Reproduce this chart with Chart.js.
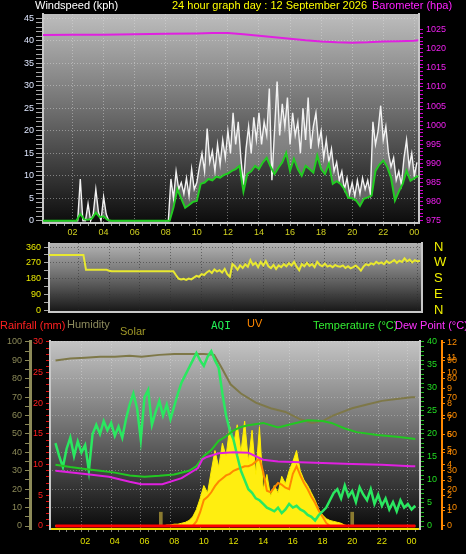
<!DOCTYPE html>
<html>
<head>
<meta charset="utf-8">
<script src="https://cdn.jsdelivr.net/npm/chart.js@4.4.0/dist/chart.umd.min.js"></script>
<style>
  body { margin: 0; background: #000; width: 466px; height: 554px; overflow: hidden; position: relative;
         font-family: "Liberation Sans", Arial, sans-serif; }
  canvas { position: absolute; left: 0; }
  .lbl { position: absolute; font-size: 11px; line-height: 13px; white-space: nowrap; z-index: 2; }
</style>
</head>
<body>
<canvas id="wind" width="466" height="240" style="top:0"></canvas>
<canvas id="dir" width="466" height="84" style="top:236px"></canvas>
<canvas id="env" width="466" height="236" style="top:318px"></canvas>

<div class="lbl" style="left:35px;top:-1px;color:#ffffff">Windspeed (kph)</div>
<div class="lbl" style="left:172px;top:-1px;color:#ffff00">24 hour graph day : 12 September 2026</div>
<div class="lbl" style="left:372px;top:-1px;color:#ff22ff">Barometer (hpa)</div>

<div class="lbl" style="left:0;top:319px;color:#ff2020">Rainfall (mm)</div>
<div class="lbl" style="left:67px;top:318px;color:#8c8a5c">Humidity</div>
<div class="lbl" style="left:120px;top:325px;color:#a09828">Solar</div>
<div class="lbl" style="left:211px;top:319px;color:#22ee55;font-family:'DejaVu Sans Mono',monospace">AQI</div>
<div class="lbl" style="left:247px;top:317px;color:#ff8800">UV</div>
<div class="lbl" style="left:313px;top:319px;color:#33ee33">Temperature (°C)</div>
<div class="lbl" style="left:395px;top:319px;color:#ff33ff">Dew Point (°C)</div>

<script>
// ---- data ----
// wind, 10 minute samples from 00:00 (kph)
const windGust = [
  0, 0, 0, 0, 0, 0, 0, 0, 0, 0, 0, 0, 0, 0, 0,
  9.3, 0, 0, 3.8, 0, 1.5, 7.0, 2, 0, 5.3, 1.5,
  0, 0, 0, 0, 0, 0, 0, 0, 0, 0, 0, 0, 0, 0, 0, 0, 0, 0, 0, 0, 0, 0, 0, 0,
  9.3, 5, 11, 7, 8.5, 6, 9.5, 5.5, 11.5, 7,
  8.5, 12, 15, 11, 20.5, 13, 15.5, 11, 17, 12.5,
  18, 14, 20, 15, 24, 17, 22, 14, 8, 16,
  21, 15, 23, 18, 24, 17, 22, 19, 29.4, 9,
  20, 31, 19, 26, 21, 27.4, 17, 24, 19, 22,
  15, 25, 18, 27.4, 16, 21, 24, 17, 20, 14,
  18, 13, 16, 11, 13, 9, 11, 7, 9.5, 6,
  8.5, 5.5, 9, 6, 9.5, 7, 9, 6, 22, 17,
  20, 25.6, 18, 21, 15, 12, 14, 9, 11, 8,
  14, 18, 12, 15, 10, 13
];
// average wind, 15 minute samples from 00:00 (kph)
const windAvg = [
  0, 0, 0, 0, 0, 0, 0, 0, 0, 0,
  1.5, 0.3, 0.2, 0.5, 1.8, 0.8, 1.0, 0.2,
  0, 0, 0, 0, 0, 0, 0, 0, 0, 0, 0, 0, 0, 0, 0, 0,
  3, 7, 4.9, 2.9, 3.5, 4.2, 4.4, 8.2, 8.5, 9.3,
  9.0, 9.8, 9.6, 10.2, 10.5, 11.1, 11.5, 12.2, 6.5, 10.4,
  11.0, 12.2, 11.5, 13.0, 14.0, 12.0, 10.4, 11.8, 13.0, 15.1,
  11.1, 13.8, 11.5, 10.0, 12.2, 11.5, 10.7, 14.5, 11.5, 10.4,
  12.7, 8.2, 8.8, 8.2, 7.0, 5.1, 5.0, 4.5, 3.3, 4.9,
  5.2, 5.6, 11.1, 12.5, 13.4, 12.0, 9.6, 4.5, 6.5, 8.2,
  11.1, 8.9, 9.5, 10.0
];
const baroHours = [0, 2, 4, 6, 8, 10, 11, 12, 13, 14, 15, 16, 17, 18, 19, 20, 21, 22, 23, 24, 24.25];
const baroValues = [1023.6, 1023.7, 1023.7, 1023.8, 1023.9, 1024.0, 1024.1, 1024.1, 1023.8, 1023.4,
  1023.0, 1022.6, 1022.2, 1021.9, 1021.7, 1021.6, 1021.7, 1021.9, 1022.0, 1022.1, 1022.2];

// wind direction, 10 minute samples (degrees)
const windDir = [
  315, 315, 315, 315, 315, 315, 315, 315, 315, 315, 315, 315, 315, 315, 315,
  230, 230, 230, 230, 230, 230, 230, 230, 230, 225,
  222, 222, 222, 222, 222, 222, 222, 222, 222, 222, 222, 222, 222, 222, 222,
  222, 222, 222, 222, 222, 222, 222, 222, 222, 222,
  200, 180, 175, 178, 172, 180, 175, 185, 195, 190,
  205, 200, 215, 225, 212, 232, 220, 228, 215, 235,
  205, 190, 262, 250, 230, 255, 240, 262, 248, 285,
  258, 270, 245, 275, 255, 280, 250, 240, 258, 235,
  255, 245, 262, 250, 268, 255, 275, 248, 228, 262,
  250, 270, 252, 262, 245, 275, 258, 250, 265, 248,
  255, 245, 258, 250, 248, 255, 240, 250, 238, 245,
  255, 242, 225, 248, 262, 255, 268, 260, 275, 265,
  272, 262, 280, 268, 275, 285, 270, 282, 275, 295,
  278, 288, 272, 285, 278, 282
];
const compass = { 0: 'N', 90: 'E', 180: 'S', 270: 'W', 360: 'N' };

// lower panel
const tempHours = [0, 1, 2, 3, 4, 5, 6, 7, 8, 9, 9.5, 10, 10.5, 11, 11.5, 12, 12.5, 13, 14, 15, 16, 17, 18, 18.6, 19.5, 20.3, 21.7, 23, 24, 24.25];
const tempValues = [13.3, 12.8, 12.4, 12.0, 11.6, 11.0, 10.7, 10.9, 11.2, 12.0, 13.0, 15.2, 16.5, 18.5, 19.5, 20.8, 21.5, 21.9, 22.4, 21.4, 22.2, 23.0, 22.8, 22.4, 21.2, 20.4, 19.8, 19.4, 19.0, 18.9];
const dewHours = [0, 2, 3.6, 5, 5.8, 7.2, 8.5, 9.6, 9.9, 10.2, 11, 12, 13, 14, 15, 16, 17, 18, 20, 22, 24, 24.25];
const dewValues = [12.0, 11.3, 10.7, 9.6, 9.1, 9.1, 10.4, 12.6, 14.5, 15.0, 15.8, 16.0, 15.9, 14.4, 14.0, 13.9, 13.8, 13.7, 13.5, 13.3, 13.0, 13.0];
const humHours = [0, 1, 2, 3, 4, 5, 5.8, 7, 8, 9, 10, 10.7, 11.2, 11.8, 12.5, 13.5, 14.5, 15.5, 16.5, 17.3, 18, 18.7, 20, 21, 22, 23, 24, 24.25];
const humValues = [90, 91, 91.5, 92, 92, 92.5, 92, 93, 93.5, 93.5, 93.5, 93, 86, 77, 72, 67, 64, 62, 58, 56, 57, 60, 64, 66, 68, 69, 70, 70];
// 15 minute samples from 00:00
const aqi = [
  45, 38, 32, 42, 48, 38, 46, 40, 44, 30,
  50, 55, 50, 57, 52, 56, 49, 54, 48, 58,
  66, 72, 64, 47, 70, 74, 55, 62, 68, 60,
  66, 58, 65, 72, 78, 82, 86, 90, 94, 90,
  87, 92, 95, 90, 86, 72, 60, 52, 47, 38,
  30, 25, 20, 18, 15, 14, 12, 10, 9, 8,
  10, 7, 9, 12, 10, 11, 9, 8, 6, 5,
  3, 6, 8, 10, 14, 18, 20, 15, 22, 16,
  19, 13, 21, 17, 14, 20, 12, 17, 11, 15,
  9, 13, 8, 14, 10, 12, 9, 11
];
const solar = [
  0, 0, 0, 0, 0, 0, 0, 0, 0, 0, 0, 0, 0, 0, 0, 0, 0, 0, 0, 0, 0, 0, 0, 0, 0, 0, 0, 0, 0, 0,
  0.5, 0.5, 1, 1, 1.5, 2, 3, 5, 9, 15,
  22, 18, 30, 41, 32, 45, 38, 54, 44, 55,
  40, 57, 35, 52, 28, 54, 20, 28, 16, 22,
  18, 27, 23, 30, 35, 41, 30, 25, 22, 18,
  14, 9, 6, 4, 3, 2.5, 2, 1.5, 0.5, 0,
  0, 0, 0, 0, 0, 0, 0, 0, 0, 0, 0, 0, 0, 0, 0, 0, 0, 0
];
const uv = [
  0, 0, 0, 0, 0, 0, 0, 0, 0, 0, 0, 0, 0, 0, 0, 0, 0, 0, 0, 0,
  0, 0, 0, 0, 0, 0, 0, 0, 0, 0, 0, 0, 0, 0, 0, 0, 0, 0,
  0.3, 0.9, 1.7, 1.9, 2.2, 2.6, 2.9, 3.1, 3.3, 3.4, 3.6, 3.7,
  3.8, 3.9, 3.9, 4.0, 4.2, 4.4, 3.5, 2.3, 2.2, 2.5,
  2.8, 2.7, 2.5, 2.4, 3.4, 3.9, 3.3, 2.8, 2.4, 1.9,
  1.5, 1.0, 0.6, 0.2, 0,
  0, 0, 0, 0, 0, 0, 0, 0, 0, 0, 0, 0, 0, 0, 0, 0, 0, 0, 0, 0, 0, 0, 0
];
const rainHours = [0, 6, 12, 18, 24.25];
const rainfall = [0, 0, 0, 0, 0];
const sunHours = [7.1, 20.0];
const sunMarks = [7.5, 7.5];

// ---- helpers ----
const FONT = "'Liberation Sans', Arial, sans-serif";
const GRID = 'rgba(225,225,225,0.45)';
const pts = (xs, ys) => xs.map((x, i) => ({ x, y: ys[i] }));
const every = (arr, step) => arr.map((_, i) => i * step);
const steps = (a, b, s) => { const r = []; for (let v = a; v <= b + 1e-9; v += s) r.push(+v.toFixed(3)); return r; };
const setTicks = vals => s => { s.ticks = vals.filter(v => v >= s.min && v <= s.max).map(v => ({ value: v })); };
const isMult = (v, m) => Math.abs(v / m - Math.round(v / m)) < 1e-6;
const hourLbl = v => (v > 0 && isMult(v, 2) ? String(Math.round(v) % 24).padStart(2, '0') : '');
const evenGrid = c => (c.tick && c.tick.value > 0 && isMult(c.tick.value, 2) ? GRID : 'transparent');
// fixed axis sizes, no automatic label overflow padding
const fitW = w => s => { s.width = w; s.paddingTop = 0; s.paddingBottom = 0; };
const fitH = h => s => { s.height = h; s.paddingLeft = 0; s.paddingRight = 0; };

const panelBg = {
  id: 'panelBg',
  beforeDraw(chart, args, opts) {
    const { ctx, chartArea: a } = chart;
    const g = ctx.createLinearGradient(0, a.top, 0, a.bottom);
    opts.stops.forEach(([p, c]) => g.addColorStop(p, c));
    ctx.save();
    ctx.fillStyle = g;
    ctx.fillRect(a.left, a.top, a.right - a.left, a.bottom - a.top);
    ctx.restore();
  }
};

const base = (stops, top) => ({
  responsive: false,
  animation: false,
  events: [],
  layout: { padding: { top, left: 0, right: 0, bottom: 0 }, autoPadding: false },
  elements: { point: { radius: 0 }, line: { tension: 0 } },
  plugins: { legend: { display: false }, tooltip: { enabled: false }, panelBg: { stops } },
});

// ---- wind speed / barometer ----
new Chart(document.getElementById('wind'), {
  type: 'line',
  data: {
    datasets: [
      { data: pts(baroHours, baroValues), borderColor: '#e020e0', borderWidth: 2, yAxisID: 'yBaro' },
      { data: pts(every(windAvg, 0.25), windAvg), borderColor: '#22cc22', borderWidth: 2, yAxisID: 'y' },
      { data: pts(every(windGust, 1 / 6), windGust), borderColor: '#f2f2f2', borderWidth: 1.4, yAxisID: 'y',
        fill: { target: 1, above: 'rgba(205,205,205,0.4)', below: 'rgba(0,0,0,0)' } },
    ]
  },
  options: {
    ...base([[0, '#bdbdbd'], [0.45, '#707070'], [1, '#0c0c0c']], 14),
    scales: {
      x: {
        type: 'linear', min: 0.1, max: 24.3,
        afterBuildTicks: setTicks(steps(0.5, 24, 0.5)),
        afterFit: fitH(17),
        ticks: { color: '#d0d020', font: { family: FONT, size: 9 }, maxRotation: 0, autoSkip: false, padding: 1, callback: hourLbl },
        grid: { color: evenGrid, tickColor: '#909090', tickLength: 3 },
        border: { color: '#c8c8c8', width: 2, dash: [1, 2] },
      },
      y: {
        position: 'left', min: -0.5, max: 46,
        afterBuildTicks: setTicks(steps(0, 45, 1)),
        afterFit: fitW(43),
        ticks: { color: '#dfe7ff', font: { family: FONT, size: 9 }, padding: 2, autoSkip: false, callback: v => (isMult(v, 5) ? v : '') },
        grid: { color: c => (c.tick && c.tick.value > 0 && isMult(c.tick.value, 5) ? GRID : 'transparent'), tickColor: '#a8a8a8', tickLength: 7 },
        border: { color: '#c8c8c8', width: 2, dash: [1, 2] },
      },
      yBaro: {
        position: 'right', min: 974.4, max: 1029.1,
        afterBuildTicks: setTicks(steps(975, 1025, 1)),
        afterFit: fitW(47),
        ticks: { color: '#f020f0', font: { family: FONT, size: 9 }, padding: 3, autoSkip: false, callback: v => (isMult(v, 5) ? v : '') },
        grid: { drawOnChartArea: false, color: '#d000d0', tickLength: 4 },
        border: { color: '#c8c8c8', width: 2 },
      },
    }
  },
  plugins: [panelBg]
});

// ---- wind direction ----
new Chart(document.getElementById('dir'), {
  type: 'line',
  data: {
    datasets: [
      { data: pts(every(windDir, 1 / 6), windDir), borderColor: '#e8e830', borderWidth: 2, yAxisID: 'y' },
    ]
  },
  options: {
    ...base([[0, '#b4b4b4'], [0.5, '#6a6a6a'], [1, '#161616']], 7),
    scales: {
      x: {
        type: 'linear', min: 0.1, max: 24.3,
        afterBuildTicks: setTicks(steps(2, 24, 2)),
        afterFit: fitH(8),
        ticks: { display: false },
        grid: { color: 'rgba(40,40,40,0.5)', drawTicks: false },
        border: { color: '#c8c8c8', width: 2, dash: [1, 2] },
      },
      y: {
        position: 'left', min: -11, max: 383,
        afterBuildTicks: setTicks(steps(0, 360, 45)),
        afterFit: fitW(49),
        ticks: { color: '#e8e800', font: { family: FONT, size: 9 }, padding: 3, autoSkip: false, callback: v => (isMult(v, 90) ? v : '') },
        grid: { color: c => (c.tick && isMult(c.tick.value, 90) && c.tick.value > 0 ? 'rgba(60,60,60,0.6)' : 'transparent'), tickColor: '#a8a8a8', tickLength: 5 },
        border: { color: '#c8c8c8', width: 2, dash: [1, 2] },
      },
      yN: {
        position: 'right', min: -11, max: 383,
        afterBuildTicks: setTicks([0, 90, 180, 270, 360]),
        afterFit: fitW(44),
        ticks: { color: '#f0f000', font: { family: FONT, size: 13 }, padding: 12, autoSkip: false, callback: v => compass[v] },
        grid: { drawOnChartArea: false, drawTicks: false },
        border: { color: '#c8c8c8', width: 2 },
      },
    }
  },
  plugins: [panelBg]
});

// ---- rain / humidity / solar / AQI / UV / temperature / dew point ----
new Chart(document.getElementById('env'), {
  type: 'line',
  data: {
    datasets: [
      { data: pts(rainHours, rainfall), borderColor: '#ff0000', borderWidth: 3, yAxisID: 'yRain' },
      { data: pts(dewHours, dewValues), borderColor: '#e020e0', borderWidth: 2, yAxisID: 'yTemp' },
      { data: pts(tempHours, tempValues), borderColor: '#22c822', borderWidth: 2, yAxisID: 'yTemp' },
      { data: pts(every(aqi, 0.25), aqi), borderColor: '#2ae860', borderWidth: 2.5, yAxisID: 'yHum' },
      { data: pts(humHours, humValues), borderColor: '#7e7848', borderWidth: 2, yAxisID: 'yHum' },
      { data: pts(every(uv, 0.25), uv), borderColor: '#ff8800', borderWidth: 2, yAxisID: 'yUV' },
      { data: pts(every(solar, 0.25), solar), borderColor: '#ffee00', borderWidth: 1, backgroundColor: '#ffee10', fill: 'origin', yAxisID: 'yHum' },
      { type: 'bar', data: pts(sunHours, sunMarks), backgroundColor: '#8a7a30', barThickness: 3, grouped: false, yAxisID: 'yHum' },
    ]
  },
  options: {
    ...base([[0, '#c4c4c4'], [0.45, '#727272'], [1, '#0a0a0a']], 23),
    scales: {
      x: {
        type: 'linear', min: -0.11, max: 24.31,
        afterBuildTicks: setTicks(steps(0.5, 24, 0.5)),
        afterFit: fitH(25),
        ticks: { color: '#e0e000', font: { family: FONT, size: 9 }, maxRotation: 0, autoSkip: false, padding: 4, callback: hourLbl },
        grid: { color: evenGrid, tickColor: '#808080', tickLength: 3 },
        border: { color: '#f0e000', width: 2, dash: [1, 2] },
      },
      yRain: {
        position: 'left', weight: 0, min: -0.49, max: 30.16,
        afterBuildTicks: setTicks(steps(0, 30, 1)),
        afterFit: fitW(20),
        ticks: { color: '#ff2020', font: { family: FONT, size: 9 }, padding: 3, autoSkip: false, callback: v => (isMult(v, 5) ? v : '') },
        grid: { drawOnChartArea: false, color: '#e01010', tickLength: 4 },
        border: { color: '#c8c8c8', width: 2 },
      },
      yHum: {
        position: 'left', weight: 1, min: -1.63, max: 100.54,
        afterBuildTicks: setTicks(steps(0, 100, 5)),
        afterFit: fitW(30),
        ticks: { color: '#8c8a58', font: { family: FONT, size: 9 }, padding: 3, autoSkip: false, callback: v => (isMult(v, 10) ? v : '') },
        grid: { color: c => (c.tick && c.tick.value > 0 && isMult(c.tick.value, 10) ? 'rgba(225,225,225,0.35)' : 'transparent'), tickColor: '#8c8a58', tickLength: 5 },
        border: { color: '#8c8a58', width: 3, dash: [1, 2] },
      },
      yTemp: {
        position: 'right', weight: 0, min: -0.65, max: 40.2,
        afterBuildTicks: setTicks(steps(0, 40, 1)),
        afterFit: fitW(22),
        ticks: { color: '#22dd22', font: { family: FONT, size: 9 }, padding: 3, autoSkip: false, callback: v => (isMult(v, 5) ? v : '') },
        grid: { drawOnChartArea: false, color: '#22bb22', tickLength: 4 },
        border: { color: '#c8c8c8', width: 2 },
      },
      yUV: {
        position: 'right', weight: 1, min: -0.196, max: 12.07,
        afterBuildTicks: s => {
          s.ticks = steps(0, 12, 1).map(v => ({ value: v }))
            .concat(steps(10, 90, 10).map(v => ({ value: v * 0.12, solar: v })));
        },
        afterFit: fitW(24),
        ticks: { color: '#ff8c00', font: { family: FONT, size: 9 }, padding: 2, autoSkip: false,
          callback: (v, i, ticks) => (ticks[i].solar !== undefined ? ticks[i].solar : v) },
        grid: { drawOnChartArea: false, color: '#ff8800', tickLength: 3 },
        border: { color: '#ff8800', width: 2 },
      },
    }
  },
  plugins: [panelBg]
});
</script>
</body>
</html>
